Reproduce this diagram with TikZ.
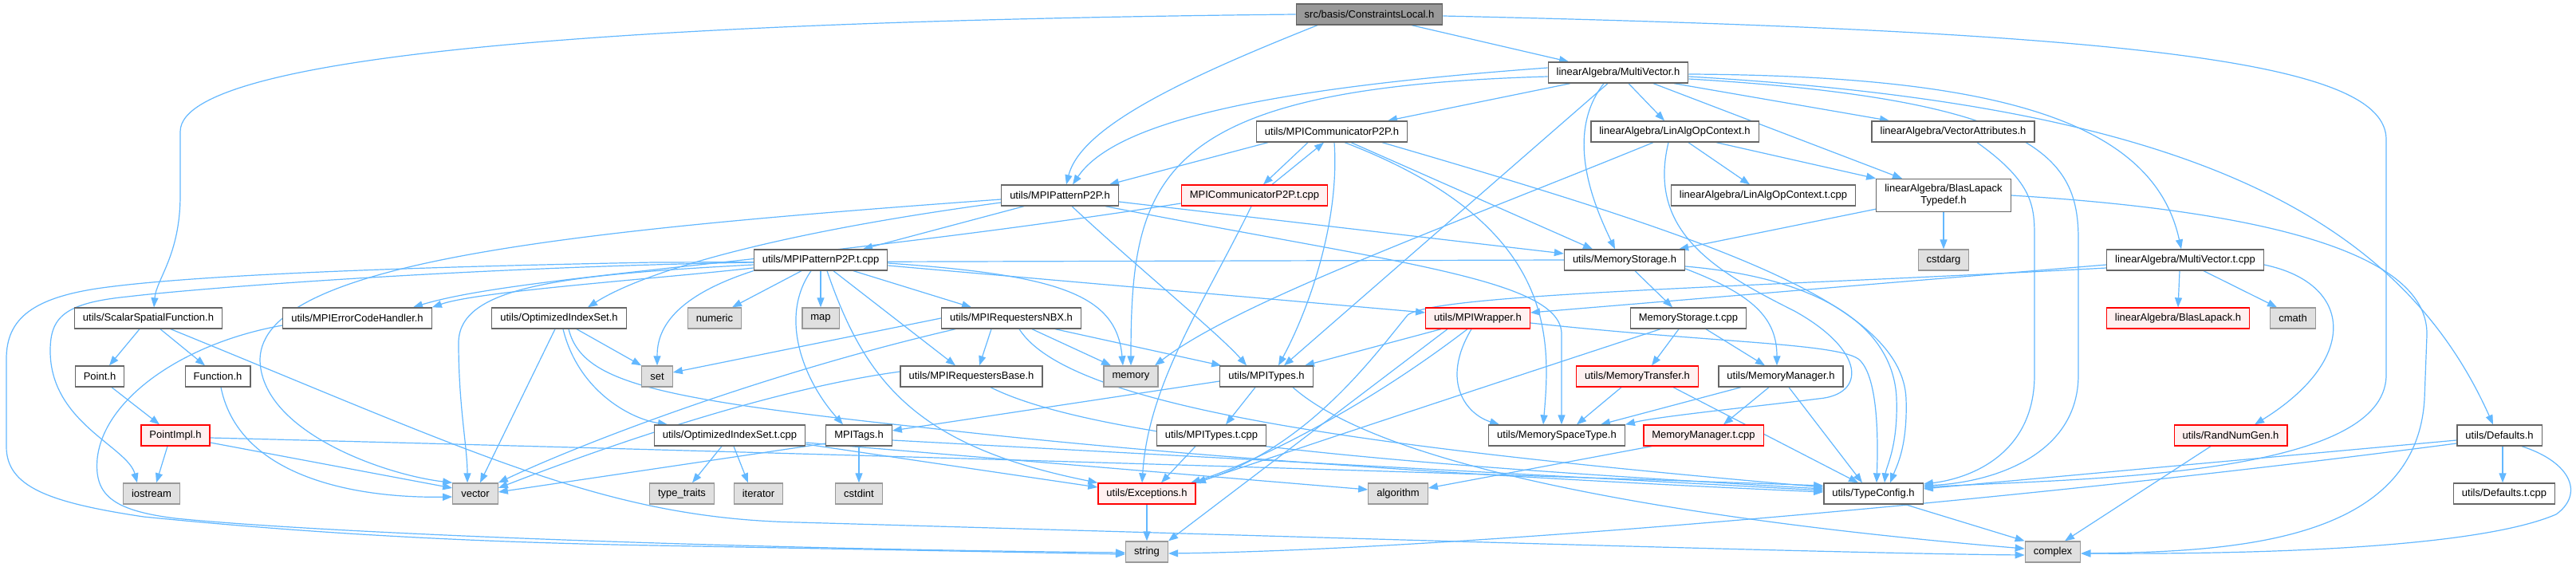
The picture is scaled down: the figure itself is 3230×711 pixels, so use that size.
\documentclass[tikz,border=0pt]{standalone}
\usepackage{fontspec}
\setmainfont{Liberation Sans}
\usetikzlibrary{arrows.meta,backgrounds}
\definecolor{linkblue}{HTML}{63B8FF}
\definecolor{boxgray}{HTML}{666666}
\definecolor{sysgray}{HTML}{999999}
\definecolor{sysfill}{HTML}{E0E0E0}
\definecolor{rootfill}{HTML}{999999}
\definecolor{truncred}{HTML}{FF0000}
\definecolor{truncfill}{HTML}{FFF0F0}

\begin{document}
\begin{tikzpicture}[x=1pt, y=1pt,
    box/.style={draw=boxgray, fill=white, line width=1.3pt, minimum height=26pt,
                inner xsep=10.5pt, inner ysep=2pt, font=\fontsize{13}{15}\selectfont},
    sysbox/.style={box, draw=sysgray, fill=sysfill},
    rootbox/.style={box, fill=rootfill},
    redbox/.style={box, draw=truncred, fill=truncfill},
    darrow/.style={-{Triangle[length=12pt,width=9pt]}, color=linkblue, line width=1.2pt},
  ]
  \useasboundingbox (0,0) rectangle (3230,-711);

  \node[rootbox] (cl) at (1717,-18) {src/basis/ConstraintsLocal.h};
  \node[box] (mv) at (2029,-91) {linearAlgebra/MultiVector.h};
  \node[box] (cp) at (1670,-165) {utils/MPICommunicatorP2P.h};
  \node[box] (lac) at (2100,-165) {linearAlgebra/LinAlgOpContext.h};
  \node[box] (va) at (2449,-165) {linearAlgebra/VectorAttributes.h};
  \node[box] (pp) at (1329,-245) {utils/MPIPatternP2P.h};
  \node[redbox] (cpt) at (1573,-245) {MPICommunicatorP2P.t.cpp};
  \node[box] (lact) at (2211,-245) {linearAlgebra/LinAlgOpContext.t.cpp};
  \node[box, minimum height=41pt, align=center] (blt) at (2437,-245) {linearAlgebra/BlasLapack\\Typedef.h};
  \node[box] (ppt) at (1029,-326) {utils/MPIPatternP2P.t.cpp};
  \node[box] (ms) at (2037,-326) {utils/MemoryStorage.h};
  \node[sysbox] (cstdarg) at (2437,-326) {cstdarg};
  \node[box] (mvt) at (2740,-326) {linearAlgebra/MultiVector.t.cpp};
  \node[box] (ssf) at (186,-399) {utils/ScalarSpatialFunction.h};
  \node[box] (ech) at (448,-399) {utils/MPIErrorCodeHandler.h};
  \node[box] (ois) at (701,-399) {utils/OptimizedIndexSet.h};
  \node[sysbox] (numeric) at (896,-399) {numeric};
  \node[sysbox] (map) at (1029,-399) {map};
  \node[box] (nbx) at (1268,-399) {utils/MPIRequestersNBX.h};
  \node[redbox] (mw) at (1853,-399) {utils/MPIWrapper.h};
  \node[box] (mst) at (2117,-399) {MemoryStorage.t.cpp};
  \node[redbox] (bl) at (2731,-399) {linearAlgebra/BlasLapack.h};
  \node[sysbox] (cmath) at (2875,-399) {cmath};
  \node[box] (point) at (125,-472) {Point.h};
  \node[box] (func) at (273,-472) {Function.h};
  \node[sysbox] (set) at (824,-472) {set};
  \node[box] (rb) at (1218,-472) {utils/MPIRequestersBase.h};
  \node[sysbox] (memory) at (1418,-472) {memory};
  \node[box] (mt) at (1588,-472) {utils/MPITypes.h};
  \node[redbox] (mtr) at (2053,-472) {utils/MemoryTransfer.h};
  \node[box] (mm) at (2233,-472) {utils/MemoryManager.h};
  \node[redbox] (pimpl) at (220,-546) {PointImpl.h};
  \node[box] (oist) at (915,-546) {utils/OptimizedIndexSet.t.cpp};
  \node[box] (tags) at (1077,-546) {MPITags.h};
  \node[box] (mtt) at (1519,-546) {utils/MPITypes.t.cpp};
  \node[box] (msp) at (1952,-546) {utils/MemorySpaceType.h};
  \node[redbox] (mmt) at (2136,-546) {MemoryManager.t.cpp};
  \node[redbox] (rng) at (2797,-546) {utils/RandNumGen.h};
  \node[box] (def) at (3134,-546) {utils/Defaults.h};
  \node[sysbox] (iostream) at (190,-619) {iostream};
  \node[sysbox] (vector) at (596,-619) {vector};
  \node[sysbox] (ttraits) at (855,-619) {type\_traits};
  \node[sysbox] (iterator) at (951,-619) {iterator};
  \node[sysbox] (cstdint) at (1077,-619) {cstdint};
  \node[redbox] (exc) at (1438,-619) {utils/Exceptions.h};
  \node[sysbox] (algorithm) at (1753,-619) {algorithm};
  \node[box] (tc) at (2349,-619) {utils/TypeConfig.h};
  \node[box] (deft) at (3140,-619) {utils/Defaults.t.cpp};
  \node[sysbox] (string) at (1438,-692) {string};
  \node[sysbox] (complex) at (2574,-692) {complex};

  \begin{scope}[on background layer]
    \fill[white] (0,0) rectangle (3230,-711);

    \draw[darrow] (cl.west) .. controls (950,-25) and (226,-55) .. (226,-165) -- (226,-245) .. controls (226,-320) and (196,-350) .. ([xshift=7]ssf.north);
    \draw[darrow] ([xshift=-65]cl.south) .. controls (1480,-100) and (1355,-160) .. ([xshift=8]pp.north);
    \draw[darrow] ([xshift=53]cl.south) -- ([xshift=-62]mv.north);
    \draw[darrow] ([yshift=-2]cl.east) .. controls (2700,-40) and (2992,-80) .. (2992,-175) -- (2992,-470) .. controls (2992,-600) and (2600,-600) .. ([yshift=8]tc.east);

    \draw[darrow] ([yshift=6]mv.west) .. controls (1600,-110) and (1400,-150) .. ([xshift=16]pp.north);
    \draw[darrow] ([yshift=-5]mv.west) .. controls (1450,-110) and (1418,-220) .. (memory.north);
    \draw[darrow] ([xshift=-60]mv.south) -- ([xshift=70]cp.north);
    \draw[darrow] ([xshift=-13]mv.south) -- ([xshift=22]mt.north);
    \draw[darrow] ([xshift=-18]mv.south) .. controls (1960,-170) and (2000,-260) .. ([xshift=-12]ms.north);
    \draw[darrow] ([xshift=13]mv.south) -- ([xshift=-13]lac.north);
    \draw[darrow] ([xshift=44]mv.south) -- ([xshift=-52]blt.north);
    \draw[darrow] ([xshift=70]mv.south) -- ([xshift=-80]va.north);
    \draw[darrow] ([yshift=-2]mv.east) .. controls (2500,-95) and (2700,-150) .. ([xshift=-5]mvt.north);
    \draw[darrow] ([yshift=-5]mv.east) .. controls (2700,-130) and (3000,-250) .. ([xshift=-8]def.north);
    \draw[darrow] ([yshift=-8]mv.east) .. controls (2560,-125) and (2606,-200) .. (2606,-300) -- (2606,-470) .. controls (2606,-570) and (2500,-605) .. ([yshift=10]tc.east);

    \draw[darrow] ([xshift=30]va.south) .. controls (2551,-230) and (2551,-260) .. (2551,-300) -- (2551,-470) .. controls (2551,-570) and (2470,-600) .. ([yshift=12]tc.east);

    \draw[darrow] ([xshift=-80]cp.south) -- ([xshift=62]pp.north);
    \draw[darrow] ([xshift=-30]cp.south) -- ([xshift=11]cpt.north);
    \draw[darrow] ([xshift=22]cpt.north) -- ([xshift=-10]cp.south);
    \draw[darrow] ([xshift=3]cp.south) .. controls (1680,-280) and (1640,-390) .. ([xshift=15]mt.north);
    \draw[darrow] ([xshift=16]cp.south) .. controls (1950,-280) and (1945,-420) .. ([xshift=-17]msp.north);
    \draw[darrow] ([xshift=24]cp.south) -- ([xshift=-40]ms.north);
    \draw[darrow] ([xshift=63]cp.south) .. controls (2150,-300) and (2385,-380) .. (2390,-500) .. controls (2392,-560) and (2378,-585) .. ([xshift=21]tc.north);

    \draw[darrow] ([xshift=-4]cpt.south) .. controls (1510,-380) and (1440,-480) .. ([xshift=-6]exc.north);
    \draw[darrow] ([yshift=-10]cpt.west) .. controls (1000,-330) and (650,-345) .. ([xshift=70]ech.north);

    \draw[darrow] ([xshift=-27]lac.south) .. controls (1800,-290) and (1550,-380) .. ([xshift=30]memory.north);
    \draw[darrow] ([xshift=-8]lac.south) .. controls (2065,-290) and (2150,-340) .. (2250,-390) .. controls (2340,-440) and (2340,-495) .. (2280,-500) .. controls (2200,-510) and (2080,-522) .. (msp.north east);
    \draw[darrow] ([xshift=17]lac.south) -- ([xshift=-17]lact.north);
    \draw[darrow] ([xshift=52]lac.south) -- (blt.north west);

    \draw[darrow] (blt.south) -- (cstdarg.north);
    \draw[darrow] ([yshift=4]blt.south west) -- ([xshift=-8]ms.north east);
    \draw[darrow] (blt.east) .. controls (2850,-265) and (3045,-320) .. (3043,-420) -- (3040,-500) .. controls (3030,-680) and (2800,-692) .. ([yshift=-2]complex.east);

    \draw[darrow] ([xshift=13]ms.south) -- ([xshift=-20]mst.north);
    \draw[darrow] ([yshift=-11]ms.east) .. controls (2200,-370) and (2228,-400) .. ([xshift=-5]mm.north);
    \draw[darrow] ([yshift=-8]ms.east) .. controls (2300,-350) and (2375,-420) .. (2378,-500) .. controls (2380,-560) and (2365,-585) .. ([xshift=14]tc.north);
    \draw[darrow] (ms.west) -- (820,-329) .. controls (500,-335) and (250,-345) .. (135,-360) .. controls (40,-372) and (8,-400) .. (8,-450) -- (8,-560) .. controls (8,-610) and (60,-630) .. (180,-648) .. controls (400,-670) and (600,-680) .. (820,-684) -- ([yshift=-3]string.west);

    \draw[darrow] ([yshift=-5]pp.west) .. controls (700,-290) and (330,-330) .. (326,-450) .. controls (326,-540) and (480,-595) .. (vector.north west);
    \draw[darrow] ([yshift=-9]pp.west) .. controls (950,-295) and (800,-345) .. ([xshift=36]ois.north);
    \draw[darrow] ([xshift=-45]pp.south) -- ([xshift=53]ppt.north);
    \draw[darrow] ([xshift=15]pp.south) .. controls (1420,-330) and (1530,-420) .. ([xshift=-25]mt.north);
    \draw[darrow] ([yshift=-8]pp.east) -- ([yshift=8]ms.west);
    \draw[darrow] ([xshift=57]pp.south) .. controls (1750,-330) and (1960,-350) .. (1958,-420) -- ([xshift=6]msp.north);

    \draw[darrow] ([yshift=-3]ppt.west) .. controls (600,-335) and (260,-360) .. (160,-372) .. controls (80,-380) and (63,-398) .. (63,-440) .. controls (63,-530) and (160,-560) .. ([xshift=-18]iostream.north);
    \draw[darrow] ([yshift=-6]ppt.west) .. controls (700,-345) and (575,-360) .. (575,-430) .. controls (575,-510) and (586,-560) .. ([xshift=-10]vector.north);
    \draw[darrow] ([yshift=-10]ppt.west) .. controls (820,-350) and (600,-365) .. (ech.north east);
    \draw[darrow] (ppt.south west) .. controls (835,-375) and (824,-420) .. (set.north);
    \draw[darrow] ([xshift=-24]ppt.south) -- ([xshift=22]numeric.north);
    \draw[darrow] (ppt.south) -- (map.north);
    \draw[darrow] ([xshift=-12]ppt.south) .. controls (975,-400) and (1010,-480) .. ([xshift=-20]tags.north);
    \draw[darrow] ([xshift=8]ppt.south) .. controls (1085,-480) and (1150,-560) .. (exc.north west);
    \draw[darrow] ([xshift=16]ppt.south) -- ([xshift=-20]rb.north);
    \draw[darrow] ([xshift=41]ppt.south) -- ([xshift=-50]nbx.north);
    \draw[darrow] ([yshift=-4]ppt.east) .. controls (1330,-345) and (1400,-370) .. ([xshift=-10]memory.north);
    \draw[darrow] ([yshift=-7]ppt.east) -- ([yshift=7]mw.west);

    \draw[darrow] ([xshift=-5]ois.south) -- ([xshift=6]vector.north);
    \draw[darrow] ([xshift=22]ois.south) -- (set.north west);
    \draw[darrow] ([xshift=5]ois.south) .. controls (725,-490) and (790,-525) .. ([xshift=-78]oist.north);
    \draw[darrow] ([xshift=12]ois.south) .. controls (730,-480) and (820,-500) .. (1166,-537) .. controls (1500,-575) and (1900,-600) .. ([yshift=2]tc.west);

    \draw[darrow] (nbx.west) -- ([yshift=5]set.east);
    \draw[darrow] ([xshift=-70]nbx.south) .. controls (950,-470) and (720,-560) .. (vector.north east);
    \draw[darrow] ([xshift=-25]nbx.south) -- ([xshift=10]rb.north);
    \draw[darrow] ([xshift=26]nbx.south) -- ([xshift=-25]memory.north);
    \draw[darrow] ([xshift=55]nbx.south) -- ([xshift=2]mt.north west);
    \draw[darrow] ([xshift=10]nbx.south) .. controls (1340,-510) and (1700,-560) .. ([yshift=8]tc.west);

    \draw[darrow] ([yshift=6]rb.west) .. controls (950,-490) and (720,-575) .. ([yshift=7]vector.east);
    \draw[darrow] ([xshift=24]rb.south) .. controls (1380,-555) and (1800,-585) .. ([yshift=6]tc.west);

    \draw[darrow] ([yshift=-10]tags.west) -- ([yshift=2]vector.east);
    \draw[darrow] (tags.south) -- (cstdint.north);
    \draw[darrow] ([yshift=-6]tags.east) -- ([yshift=4]tc.west);

    \draw[darrow] ([yshift=-6]mt.west) -- ([yshift=6]tags.east);
    \draw[darrow] ([xshift=-14]mt.south) -- ([xshift=18]mtt.north);
    \draw[darrow] ([xshift=33]mt.south) .. controls (1750,-600) and (2200,-660) .. ([yshift=4]complex.west);
    \draw[darrow] ([xshift=-20]mtt.south) -- ([xshift=18]exc.north);
    \draw[darrow] (exc.south) -- (string.north);

    \draw[darrow] ([xshift=-46]mw.south) -- ([xshift=48]mt.north);
    \draw[darrow] ([xshift=-13]mw.south) .. controls (1700,-520) and (1560,-585) .. ([xshift=55]exc.north);
    \draw[darrow] ([xshift=-38]mw.south) -- (string.north east);
    \draw[darrow] ([xshift=-8]mw.south) .. controls (1805,-480) and (1840,-520) .. ([xshift=-72]msp.north);
    \draw[darrow] ([yshift=-6]mw.east) .. controls (2150,-430) and (2300,-430) .. (2330,-450) .. controls (2355,-470) and (2355,-550) .. ([xshift=4]tc.north);

    \draw[darrow] ([xshift=-12]mst.south) -- ([xshift=18]mtr.north);
    \draw[darrow] ([xshift=22]mst.south) -- ([xshift=-20]mm.north);
    \draw[darrow] ([xshift=-35]mst.south) .. controls (1800,-505) and (1560,-585) .. (exc.north east);

    \draw[darrow] ([xshift=-20]mtr.south) -- ([xshift=25]msp.north);
    \draw[darrow] ([xshift=45]mtr.south) -- ([xshift=-19]tc.north);
    \draw[darrow] ([xshift=-50]mm.south) -- ([xshift=55]msp.north);
    \draw[darrow] ([xshift=-15]mm.south) -- ([xshift=25]mmt.north);
    \draw[darrow] ([xshift=10]mm.south) -- ([xshift=-14]tc.north);
    \draw[darrow] ([xshift=-65]mmt.south) -- ([yshift=7]algorithm.east);

    \draw[darrow] ([xshift=-10]oist.south) -- ([xshift=13]ttraits.north);
    \draw[darrow] ([xshift=5]oist.south) -- ([xshift=-13]iterator.north);
    \draw[darrow] ([yshift=-11]oist.east) -- ([yshift=8]exc.west);
    \draw[darrow] ([yshift=-9]oist.east) -- ([yshift=5]algorithm.west);

    \draw[darrow] ([xshift=-11]ssf.south) -- ([xshift=12]point.north);
    \draw[darrow] ([xshift=15]ssf.south) -- ([xshift=-16]func.north);
    \draw[darrow] ([xshift=28]ssf.south) .. controls (600,-570) and (760,-650) .. (1000,-655) .. controls (1600,-672) and (2300,-694) .. ([yshift=-4]complex.west);
    \draw[darrow] ([xshift=15]point.south) -- ([xshift=-20]pimpl.north);
    \draw[darrow] ([xshift=4]func.south) .. controls (300,-600) and (450,-625) .. ([yshift=-4]vector.west);
    \draw[darrow] ([xshift=-10]pimpl.south) -- ([xshift=6]iostream.north);
    \draw[darrow] ([yshift=-9]pimpl.east) -- ([yshift=7]vector.west);
    \draw[darrow] ([yshift=-3]pimpl.east) .. controls (900,-565) and (1800,-592) .. ([yshift=10]tc.west);
    \draw[darrow] ([yshift=-9]ech.west) .. controls (230,-430) and (130,-500) .. (122,-575) .. controls (118,-620) and (140,-640) .. (220,-650) .. controls (400,-668) and (900,-688) .. ([yshift=-1]string.west);

    \draw[darrow] ([xshift=-7]mvt.south) -- (bl.north);
    \draw[darrow] ([xshift=23]mvt.south) -- ([xshift=-20]cmath.north);
    \draw[darrow] ([yshift=-6]mvt.east) .. controls (2950,-355) and (2960,-450) .. ([xshift=30]rng.north);
    \draw[darrow] ([yshift=-6]mvt.west) -- ([yshift=7]mw.east);
    \draw[darrow] ([yshift=-10]mvt.west) .. controls (2200,-360) and (1800,-368) .. (1765,-395) .. controls (1720,-450) and (1640,-560) .. (exc.north east);

    \draw[darrow] ([xshift=-25]rng.south) -- ([xshift=15]complex.north);
    \draw[darrow] ([xshift=40]tc.south) -- (complex.north west);
    \draw[darrow] ([xshift=4]def.south) -- ([xshift=-2]deft.north);
    \draw[darrow] ([yshift=-6]def.west) -- ([yshift=6]tc.east);
    \draw[darrow] ([yshift=-10]def.west) .. controls (2500,-632) and (1800,-690) .. ([yshift=-2]string.east);
    \draw[darrow] ([xshift=28]def.south) .. controls (3225,-580) and (3240,-620) .. (3205,-645) .. controls (3100,-690) and (2800,-695) .. ([yshift=-2]complex.east);
  \end{scope}
\end{tikzpicture}
\end{document}
